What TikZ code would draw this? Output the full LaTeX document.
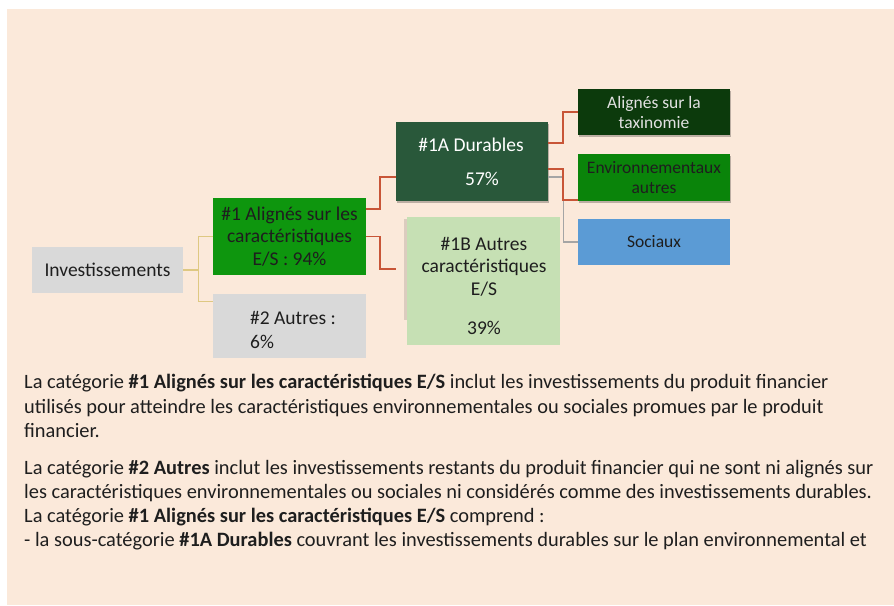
\documentclass[tikz,border=0pt]{standalone}
\usepackage{fontspec}
\setmainfont{Carlito}
\usetikzlibrary{shadows}
\definecolor{peach}{RGB}{251,233,218}
\definecolor{boxgrey}{RGB}{217,217,217}
\definecolor{greenA}{RGB}{14,150,14}
\definecolor{darkA}{RGB}{41,88,58}
\definecolor{darkT}{RGB}{12,58,12}
\definecolor{greenE}{RGB}{10,132,10}
\definecolor{lightB}{RGB}{198,224,180}
\definecolor{blueS}{RGB}{91,155,213}
\definecolor{redline}{RGB}{200,85,55}
\definecolor{tanline}{RGB}{222,200,130}
\definecolor{greyline}{RGB}{165,165,165}
\definecolor{ink}{RGB}{30,30,30}
\begin{document}
\begin{tikzpicture}[x=1pt,y=-1pt,
  box/.style={draw=none,inner sep=0pt,align=center,text=ink,
    font=\fontsize{19.5}{22.5}\selectfont},
  sbox/.style={box,font=\fontsize{17.5}{20}\selectfont},
  sh/.style={drop shadow={shadow xshift=1pt,shadow yshift=-2pt,opacity=0.25,fill=black}},
  txt/.style={inner sep=0pt,text=ink,font=\fontsize{19.5}{22.5}\selectfont},
  para/.style={inner sep=0pt,anchor=base west,text=ink,font=\fontsize{20.4}{24}\selectfont},
  redc/.style={draw=redline,line width=1.8pt},
  tanc/.style={draw=tanline,line width=1.3pt},
  greyc/.style={draw=greyline,line width=1.3pt}]
\useasboundingbox (0,0) rectangle (894,605);
\fill[white] (0,0) rectangle (894,605);
\fill[peach] (7,9) rectangle (894,605);

% boxes
\node[box,fill=boxgrey,minimum width=151pt,minimum height=46pt] (inv) at (107.5,270) {Investissements};
\node[box,fill=greenA,minimum width=153pt,minimum height=77pt] (n1) at (289.5,236.5) {\#1 Alignés sur les\\caractéristiques\\E/S : 94\%};
\node[box,fill=boxgrey,minimum width=153pt,minimum height=64pt] (n2) at (289.5,326) {};
\node[box,fill=darkA,sh,minimum width=152pt,minimum height=79pt] (n1a) at (472,161.5) {};
\fill[black,opacity=0.12] (404,219) rectangle (410,320);
\node[box,fill=lightB,minimum width=153pt,minimum height=128pt] (n1b) at (483.5,281) {};
\node[sbox,fill=darkT,sh,text={rgb,255:red,225;green,225;blue,225},minimum width=152pt,minimum height=46pt] (tax) at (654,112) {Alignés sur la\\taxinomie};
\node[sbox,fill=greenE,sh,minimum width=152pt,minimum height=47pt] (env) at (654,177.5) {Environnementaux\\autres};
\node[sbox,fill=blueS,minimum width=152pt,minimum height=46pt] (soc) at (654,242) {Sociaux};

% texts placed inside boxes
\node[txt,anchor=west,align=left,font=\fontsize{19.5}{24}\selectfont] (t2) at (250,330) {\#2 Autres :\\6\%};
\node[txt,text=white] (t1a) at (471,145) {\#1A Durables};
\node[txt,text=white] (t1ap) at (482,179) {57\%};
\node[txt,align=center] (t1b) at (484,266.5) {\#1B Autres\\caractéristiques\\E/S};
\node[txt] (t1bp) at (484,328) {39\%};

% connectors
\draw[tanc] (inv.east) -- ++(15,0) coordinate (jt) |- (n1.west);
\draw[tanc] (jt) |- ([yshift=-8pt]n2.north west);
\draw[redc] ([yshift=27.5pt]n1.east) -- ++(14,0) |- ([yshift=-15.5pt]n1a.west);
\draw[redc] (n1.east) -- ++(14,0) |- ([xshift=-11pt,yshift=12pt]n1b.west);
\draw[greyc] ([yshift=-15.5pt]n1a.east) -- ++(15,0) |- (soc.west);
\draw[redc] ([yshift=18.5pt]n1a.east) -- ++(15,0) |- (tax.west);
\draw[redc] ([yshift=-7.5pt]n1a.east) -- ++(15,0) |- ([yshift=1.5pt]env.south west);

% paragraph
\node[para] (p1) at (24,388) {La catégorie \textbf{\#1 Alignés sur les caractéristiques E/S} inclut les investissements du produit financier};
\node[para] (p2) at (24,413) {utilisés pour atteindre les caractéristiques environnementales ou sociales promues par le produit};
\node[para] (p3) at (24,437) {financier.};
\node[para] (p4) at (24,474) {La catégorie \textbf{\#2 Autres} inclut les investissements restants du produit financier qui ne sont ni alignés sur};
\node[para] (p5) at (24,498) {les caractéristiques environnementales ou sociales ni considérés comme des investissements durables.};
\node[para] (p6) at (24,522) {La catégorie \textbf{\#1 Alignés sur les caractéristiques E/S} comprend :};
\node[para] (p7) at (24,546) {- la sous-catégorie \textbf{\#1A Durables} couvrant les investissements durables sur le plan environnemental et};
\end{tikzpicture}
\end{document}
